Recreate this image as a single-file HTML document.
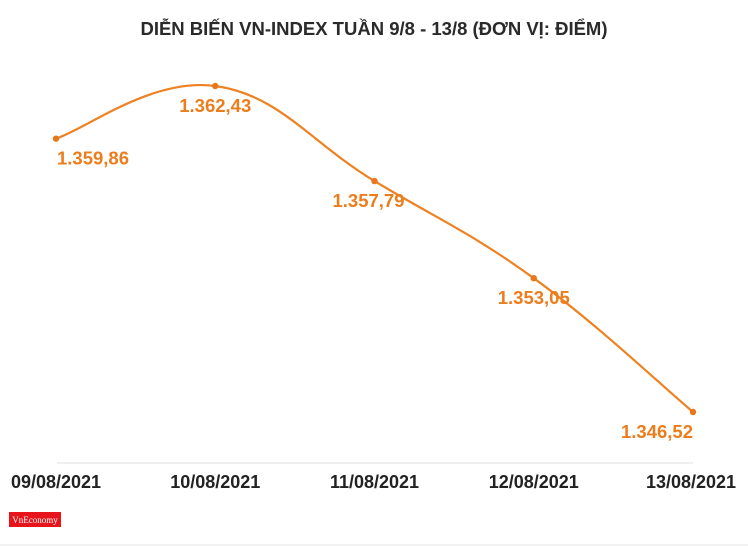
<!DOCTYPE html>
<html><head><meta charset="utf-8"><style>
body{margin:0;background:#fff;}
svg{display:block;font-family:"Liberation Sans",sans-serif;}
</style></head><body>
<svg id="c" width="748" height="546">
<text x="374" y="35" text-anchor="middle" font-size="18.5" font-weight="bold" fill="#2a2a2a">DIỄN BIẾN VN-INDEX TUẦN 9/8 - 13/8 (ĐƠN VỊ: ĐIỂM)</text>
<line x1="57" y1="463" x2="693" y2="463" stroke="#e2e2e2" stroke-width="1"/>
<g><rect x="9" y="512" width="52" height="15" fill="#e8141c"/><text x="35" y="523" text-anchor="middle" font-family="Liberation Serif,serif" font-size="9" fill="#fff">VnEconomy</text></g>
<line x1="0" y1="545" x2="748" y2="545" stroke="#e6e6e6"/>
</svg>
<script>
const categories=["09/08/2021","10/08/2021","11/08/2021","12/08/2021","13/08/2021"];
const values=[1359.86,1362.43,1357.79,1353.05,1346.52];
const valueLabels=["1.359,86","1.362,43","1.357,79","1.353,05","1.346,52"];
const svg=document.getElementById('c');const NS="http://www.w3.org/2000/svg";
const x0=56,x1=693,yTop=86,yBot=412,vMax=1362.43,vMin=1346.52;
function xs(i){return x0+(x1-x0)*i/(categories.length-1);}
function ys(v){return yTop+(vMax-v)/(vMax-vMin)*(yBot-yTop);}
const pts=values.map((v,i)=>[xs(i),ys(v)]);
let d=`M${pts[0][0]},${pts[0][1]}`;
for(let i=0;i<pts.length-1;i++){const p0=pts[Math.max(i-1,0)],p1=pts[i],p2=pts[i+1],p3=pts[Math.min(i+2,pts.length-1)];const t=0.2;
d+=` C${p1[0]+(p2[0]-p0[0])*t},${p1[1]+(p2[1]-p0[1])*t} ${p2[0]-(p3[0]-p1[0])*t},${p2[1]-(p3[1]-p1[1])*t} ${p2[0]},${p2[1]}`;}
const path=document.createElementNS(NS,'path');


path.setAttribute('d',d);path.setAttribute('fill','none');path.setAttribute('stroke','#ee8121');path.setAttribute('stroke-width','2.2');
svg.appendChild(path);
pts.forEach((p,i)=>{
const c=document.createElementNS(NS,'circle');


c.setAttribute('cx',p[0]);c.setAttribute('cy',p[1]);c.setAttribute('r','3.2');c.setAttribute('fill','#e8761a');svg.appendChild(c);
const t=document.createElementNS(NS,'text');


const anchor=i===0?'start':(i===pts.length-1?'end':'middle');
t.setAttribute('x',p[0]+(i===0?1:(i===2?-6:0)));t.setAttribute('y',p[1]+26);t.setAttribute('text-anchor',anchor);
t.setAttribute('font-size','18.5');t.setAttribute('font-weight','bold');t.setAttribute('fill','#ec7d1c');
t.textContent=valueLabels[i];svg.appendChild(t);
const xl=document.createElementNS(NS,'text');


xl.setAttribute('x',i===pts.length-1?p[0]-2:p[0]);xl.setAttribute('y',488);xl.setAttribute('text-anchor','middle');
xl.setAttribute('font-size','18');xl.setAttribute('font-weight','bold');xl.setAttribute('fill','#222');
xl.textContent=categories[i];svg.appendChild(xl);
});
</script>
</body></html>
